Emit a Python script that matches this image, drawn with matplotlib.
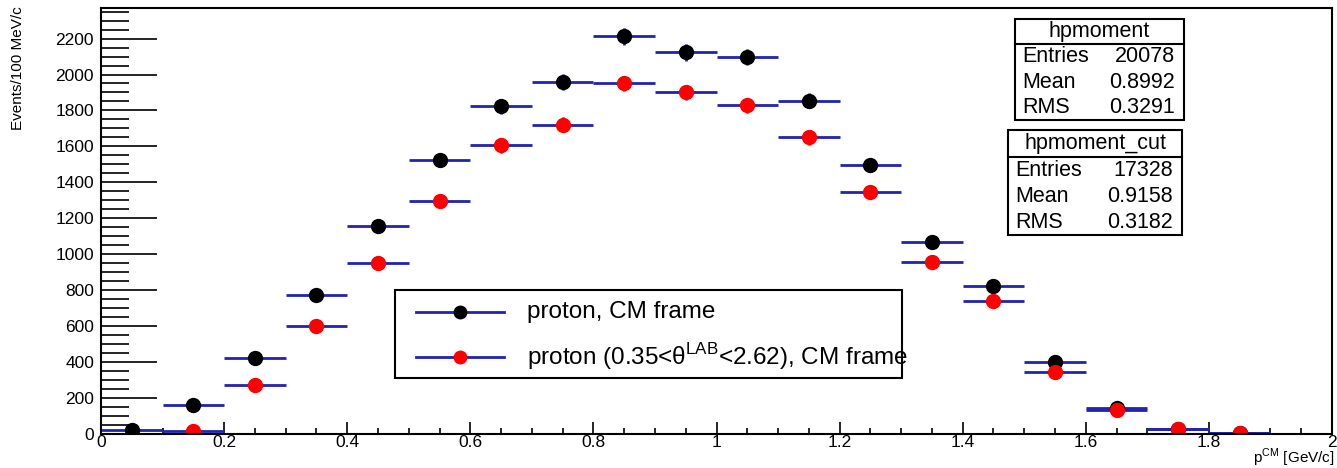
import numpy as np
import matplotlib
matplotlib.use("Agg")
import matplotlib.pyplot as plt
from matplotlib.ticker import MultipleLocator, FuncFormatter

plt.rcParams['font.family'] = ['Liberation Sans', 'DejaVu Sans']
plt.rcParams['mathtext.fontset'] = 'custom'
plt.rcParams['mathtext.rm'] = 'Liberation Sans'

# histogram contents (bin centres, 100 MeV/c bins)
p_cm = [0.05, 0.15, 0.25, 0.35, 0.45, 0.55, 0.65, 0.75, 0.85, 0.95,
        1.05, 1.15, 1.25, 1.35, 1.45, 1.55, 1.65, 1.75, 1.85]
n_all = [20, 163, 422, 774, 1155, 1525, 1823, 1958, 2212, 2123,
         2097, 1855, 1497, 1069, 825, 401, 146, 28, 5]
n_cut = [0, 15, 274, 602, 953, 1299, 1606, 1721, 1950, 1900,
         1828, 1650, 1347, 959, 742, 347, 133, 28, 5]
bin_half = 0.05

labels = ["proton, CM frame",
          r"proton (0.35<θ$^{\mathrm{LAB}}$<2.62), CM frame"]
colors = ["black", "red"]

stats_all = [("Entries", "20078"), ("Mean", "0.8992"), ("RMS", "0.3291")]
stats_cut = [("Entries", "17328"), ("Mean", "0.9158"), ("RMS", "0.3182")]

blue = "#2323b0"
W, H = 1337, 468
fx = lambda v: v / W
fy = lambda v: 1 - v / H

fig = plt.figure(figsize=(13.37, 4.68), dpi=100)
ax = fig.add_axes([fx(101), fy(434), 1231 / W, 426 / H])

for y, col in [(np.array(n_all), colors[0]), (np.array(n_cut), colors[1])]:
    x = np.array(p_cm)
    keep = y > 0  # empty bins are not drawn
    ax.errorbar(x[keep], y[keep], xerr=bin_half, yerr=np.sqrt(y[keep]), fmt="o",
                color=col, ecolor=blue, elinewidth=2, capsize=0, markersize=10,
                markeredgecolor=col)

ax.set_xlim(0, 2)
ax.set_ylim(0, 2370)
ax.xaxis.set_major_locator(MultipleLocator(0.2))
ax.xaxis.set_minor_locator(MultipleLocator(0.05))
ax.yaxis.set_major_locator(MultipleLocator(200))
ax.yaxis.set_minor_locator(MultipleLocator(50))
ax.xaxis.set_major_formatter(FuncFormatter(lambda v, p: "%g" % round(v, 2)))
ax.tick_params(axis="both", which="both", direction="in", labelsize=12.5, width=1.2)
ax.tick_params(axis="y", which="major", length=40, pad=5)
ax.tick_params(axis="y", which="minor", length=20)
ax.tick_params(axis="x", which="major", length=9, pad=1)
ax.tick_params(axis="x", which="minor", length=4.5)
for s in ax.spines.values():
    s.set_linewidth(1.5)

fig.text(fx(11), fy(6), "Events/100 MeV/c", rotation=90, ha="left", va="top", fontsize=11)
fig.text(fx(1335), fy(469), r"p$^{\mathrm{CM}}$ [GeV/c]", ha="right", va="bottom", fontsize=11)

# legend box drawn ROOT-style
fig.add_artist(plt.Rectangle((fx(395), fy(378)), (902 - 395) / W, (378 - 290) / H,
                             transform=fig.transFigure, facecolor="white",
                             edgecolor="black", linewidth=1.5))
for i, (lab, col) in enumerate(zip(labels, colors)):
    yc = fy(312 + 45 * i)
    fig.add_artist(plt.Line2D([fx(416), fx(504)], [yc, yc], transform=fig.transFigure,
                              color=blue, linewidth=2))
    fig.add_artist(plt.Line2D([fx(460)], [yc], transform=fig.transFigure, marker="o",
                              markersize=9, color=col, linestyle="none"))
    fig.text(fx(527), yc, lab, ha="left", va="center", fontsize=17.5)


def stats_box(x0, y0, x1, y1, ytitle, title, rows):
    t = fig.transFigure
    fig.add_artist(plt.Rectangle((fx(x0), fy(y1)), fx(x1) - fx(x0), fy(y0) - fy(y1),
                                 transform=t, facecolor="white",
                                 edgecolor="black", linewidth=1.5))
    fig.add_artist(plt.Line2D([fx(x0), fx(x1)], [fy(ytitle), fy(ytitle)],
                              transform=t, color="black", linewidth=1.5))
    fig.text((fx(x0) + fx(x1)) / 2, fy((y0 + ytitle) / 2), title,
             ha="center", va="center", fontsize=15.5)
    h = (y1 - ytitle) / len(rows)
    for i, (k, v) in enumerate(rows):
        yc = fy(ytitle + h * (i + 0.5))
        fig.text(fx(x0 + 7), yc, k, ha="left", va="center", fontsize=15.5)
        fig.text(fx(x1 - 9), yc, v, ha="right", va="center", fontsize=15.5)


stats_box(1015, 19, 1184, 120, 44, "hpmoment", stats_all)
stats_box(1008, 130, 1182, 235, 157, "hpmoment_cut", stats_cut)

fig.savefig("out.png", dpi=100)
